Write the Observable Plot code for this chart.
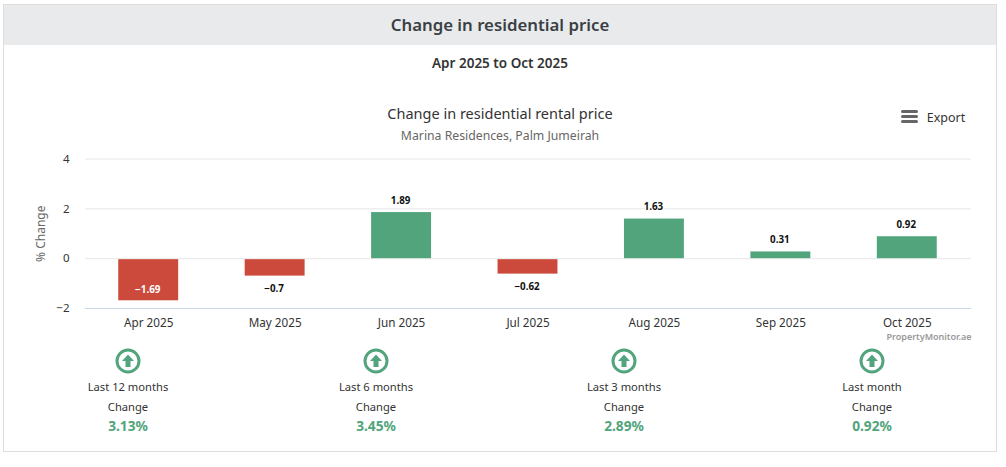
<!DOCTYPE html>
<html><head><meta charset="utf-8">
<script src="https://cdn.jsdelivr.net/npm/d3@7"></script>
<script src="https://cdn.jsdelivr.net/npm/@observablehq/plot@0.6"></script>
<style>
html,body{margin:0;padding:0;background:#fff;width:1006px;height:467px;overflow:hidden;font-family:"Noto Sans",sans-serif;color:#333}
#card{position:absolute;left:3px;top:4px;width:992px;height:446px;border:1px solid #dddddd}
.t{position:absolute;white-space:nowrap;text-align:center;transform:translate(-50%,-50%)}
#head{position:absolute;left:4px;top:5px;width:992px;height:40px;background:#e9eaec}
#chart{position:absolute;left:0;top:150px}
#chart svg{font-family:"Noto Sans",sans-serif}
</style></head><body>
<div id="card"></div><div id="head"></div>
<div id="root"></div>
<div id="chart"></div>
<script>
const months = ["Apr 2025","May 2025","Jun 2025","Jul 2025","Aug 2025","Sep 2025","Oct 2025"];
const changes = [-1.69,-0.7,1.89,-0.62,1.63,0.31,0.92];
const yTicks = [-2,0,2,4];
const statLabels = ["Last 12 months","Last 6 months","Last 3 months","Last month"];
const statValues = ["3.13%","3.45%","2.89%","0.92%"];
const statCenters = [128,376,624,872];
const UP="#52a47c", DOWN="#cc4a3c";

const rows = months.map((m,i)=>({m,v:changes[i]}));
const fmt = v => String(v).replace("-","\u2212");
const texts = [
 ["Change in residential price",500,24,"16.8px",600,"#3a3f44"],
 ["Apr 2025 to Oct 2025",500,62.5,"13.5px",600,"#333"],
 ["Change in residential rental price",500,113,"14.5px",400,"#333"],
 ["Marina Residences, Palm Jumeirah",500,135,"12.25px",400,"#666"],
 ["Export",946,117,"12.5px",400,"#333"],
 ["PropertyMonitor.ae",929,336,"9px",600,"#999"]
];
const root=document.getElementById("root");
function addT(s,x,y,size,w,c){const d=document.createElement("div");d.className="t";d.textContent=s;
 d.style.cssText=`left:${x}px;top:${y}px;font-size:${size};font-weight:${w};color:${c}`;root.appendChild(d);}
texts.forEach(a=>addT(...a));
// menu icon
const menu=document.createElementNS("http://www.w3.org/2000/svg","svg");
menu.setAttribute("style","position:absolute;left:901px;top:109px");menu.setAttribute("width",17);menu.setAttribute("height",15);
[2.5,7.5,12.5].forEach(y=>{const l=document.createElementNS(menu.namespaceURI,"line");
 l.setAttribute("x1",1.5);l.setAttribute("x2",15.5);l.setAttribute("y1",y);l.setAttribute("y2",y);
 l.setAttribute("stroke","#666");l.setAttribute("stroke-width",3);l.setAttribute("stroke-linecap","round");menu.appendChild(l);});
root.appendChild(menu);
statCenters.forEach((x,i)=>{
 const s=document.createElement("div");
 s.innerHTML=`<svg width="26" height="26" viewBox="0 0 26 26" style="position:absolute;left:${x-13}px;top:348px"><circle cx="13" cy="13" r="11" fill="#fff" stroke="${UP}" stroke-width="3"/><path d="M13 6.5 L19 13 H15.5 V19 H10.5 V13 H7 Z" fill="${UP}"/></svg>`;
 root.appendChild(s);
 addT(statLabels[i],x,386,"11.2px",400,"#333");
 addT("Change",x,406,"11.2px",400,"#333");
 addT(statValues[i],x,425,"13.7px",700,UP);
});

const halo={stroke:"#fff",strokeWidth:2};
const chart=Plot.plot({
 width:1006,height:190,
 marginLeft:85,marginRight:36,marginTop:8.5,marginBottom:32,
 style:{background:"transparent",overflow:"visible"},
 x:{domain:months,paddingInner:0.526,paddingOuter:0.263,align:0.5,round:false,label:null},
 y:{domain:[-2,4],label:null},
 marks:[
  Plot.ruleY(yTicks,{stroke:"#e6e6e6",insetRight:-1}),
  Plot.ruleY([-2],{stroke:"#ccd6eb",insetRight:-1}),
  Plot.barY(rows,{x:"m",y:"v",insetTop:1,fill:d=>d.v<0?DOWN:UP}),
  Plot.axisY({ticks:yTicks,tickSize:0,tickPadding:0,dx:-16,label:null,tickFormat:fmt,fontSize:11.5,fill:"#333"}),
  Plot.axisX({tickSize:0,tickPadding:10,label:null,fontSize:11.7,fill:"#333"}),
  Plot.text(rows.filter(d=>d.v>=0),{x:"m",y:"v",text:d=>fmt(d.v),dy:-11,dx:-1,fontSize:9.8,fontWeight:700,fill:"#111",...halo}),
  Plot.text(rows.filter(d=>d.v<0&&d.v>-1),{x:"m",y:"v",text:d=>fmt(d.v),dy:13,dx:-1,fontSize:9.8,fontWeight:700,fill:"#111",...halo}),
  Plot.text(rows.filter(d=>d.v<=-1),{x:"m",y:"v",text:d=>fmt(d.v),dy:-11,dx:-1,fontSize:9.8,fontWeight:700,fill:"#fff"}),
  Plot.text(["% Change"],{frameAnchor:"left",textAnchor:"middle",dx:-44,y:1.0,rotate:-90,fontSize:12,fill:"#666"})
 ]
});
document.getElementById("chart").appendChild(chart);
</script></body></html>
